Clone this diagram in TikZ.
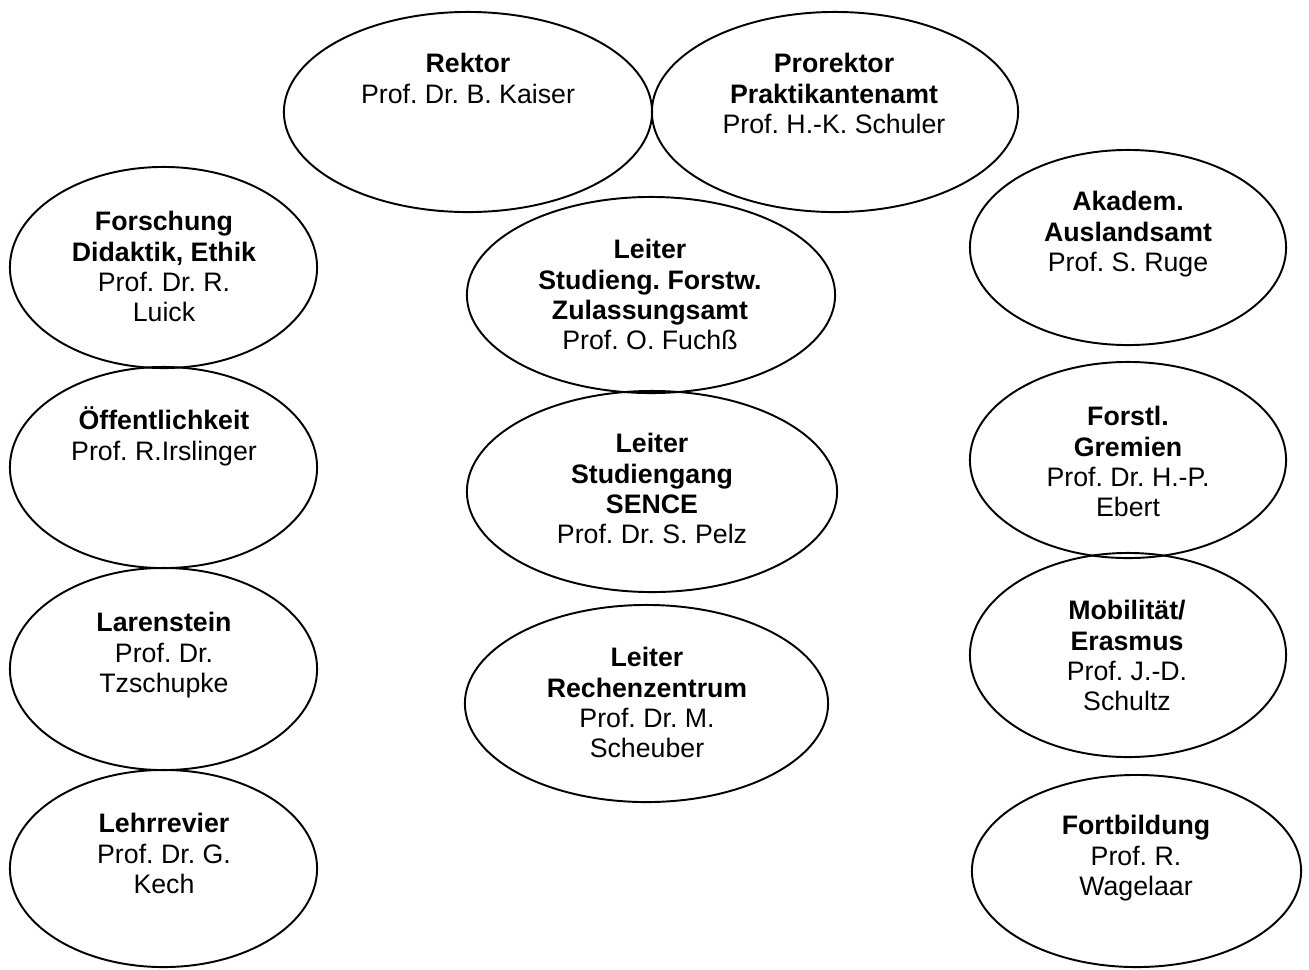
\documentclass[tikz,border=0pt]{standalone}
\usepackage{fontspec}
\setmainfont{Liberation Sans}
\usetikzlibrary{shapes.geometric}
\frenchspacing
\begin{document}
\begin{tikzpicture}[x=0.01cm,y=-0.01cm,
  oval/.style={draw, ellipse, inner sep=0pt, outer sep=0pt, line width=0.55pt},
  lbl/.style={align=center, anchor=base, inner sep=0pt, font=\fontsize{7.6pt}{8.62pt}\selectfont\frenchspacing}]
\useasboundingbox (0,0) rectangle (1309,969);
% ellipses
\node[oval, minimum width=3.68cm, minimum height=2.00cm] (rektor) at (468,112) {};
\node[oval, minimum width=3.66cm, minimum height=2.00cm] (prorektor) at (835,112) {};
\node[oval, minimum width=3.07cm, minimum height=2.01cm] (forschung) at (163.5,267.5) {};
\node[oval, minimum width=3.07cm, minimum height=2.01cm] (oeff) at (163.5,467.5) {};
\node[oval, minimum width=3.07cm, minimum height=2.02cm] (laren) at (163.5,669) {};
\node[oval, minimum width=3.07cm, minimum height=1.97cm] (lehr) at (163.5,868.5) {};
\node[oval, minimum width=3.68cm, minimum height=1.96cm] (studieng) at (651,295) {};
\node[oval, minimum width=3.70cm, minimum height=2.01cm] (sence) at (652,491.5) {};
\node[oval, minimum width=3.63cm, minimum height=1.97cm] (rechen) at (646.5,703.5) {};
\node[oval, minimum width=3.16cm, minimum height=1.95cm] (akadem) at (1128,247.5) {};
\node[oval, minimum width=3.16cm, minimum height=1.96cm] (forstl) at (1128,460) {};
\node[oval, minimum width=3.16cm, minimum height=2.04cm] (mobil) at (1128,655) {};
\node[oval, minimum width=3.29cm, minimum height=1.92cm] (fortb) at (1136.5,871) {};
% texts (anchored at the baseline of the last line)
\node[lbl] (trektor) at (468,103.3) {\textbf{Rektor}\\Prof. Dr. B. Kaiser};
\node[lbl] (tprorektor) at (834,133.6) {\textbf{Prorektor}\\\textbf{Praktikantenamt}\\Prof. H.-K. Schuler};
\node[lbl] (tforschung) at (164,321.9) {\textbf{Forschung}\\\textbf{Didaktik, Ethik}\\Prof. Dr. R.\\Luick};
\node[lbl] (toeff) at (164,460.3) {\textbf{Öffentlichkeit}\\Prof. R.Irslinger};
\node[lbl] (tlaren) at (164,692.6) {\textbf{Larenstein}\\Prof. Dr.\\Tzschupke};
\node[lbl] (tlehr) at (164,893.6) {\textbf{Lehrrevier}\\Prof. Dr. G.\\Kech};
\node[lbl] (tstudieng) at (650,349.9) {\textbf{Leiter}\\\textbf{Studieng. Forstw.}\\\textbf{Zulassungsamt}\\Prof. O. Fuchß};
\node[lbl] (tsence) at (652,543.9) {\textbf{Leiter}\\\textbf{Studiengang}\\\textbf{SENCE}\\Prof. Dr. S. Pelz};
\node[lbl] (trechen) at (647,757.9) {\textbf{Leiter}\\\textbf{Rechenzentrum}\\Prof. Dr. M.\\Scheuber};
\node[lbl] (takadem) at (1128,271.6) {\textbf{Akadem.}\\\textbf{Auslandsamt}\\Prof. S. Ruge};
\node[lbl] (tforstl) at (1128,516.9) {\textbf{Forstl.}\\\textbf{Gremien}\\Prof. Dr. H.-P.\\Ebert};
\node[lbl] (tmobil) at (1127,710.9) {\textbf{Mobilität/}\\\textbf{Erasmus}\\Prof. J.-D.\\Schultz};
\node[lbl] (tfortb) at (1136,895.6) {\textbf{Fortbildung}\\Prof. R.\\Wagelaar};
\end{tikzpicture}
\end{document}
